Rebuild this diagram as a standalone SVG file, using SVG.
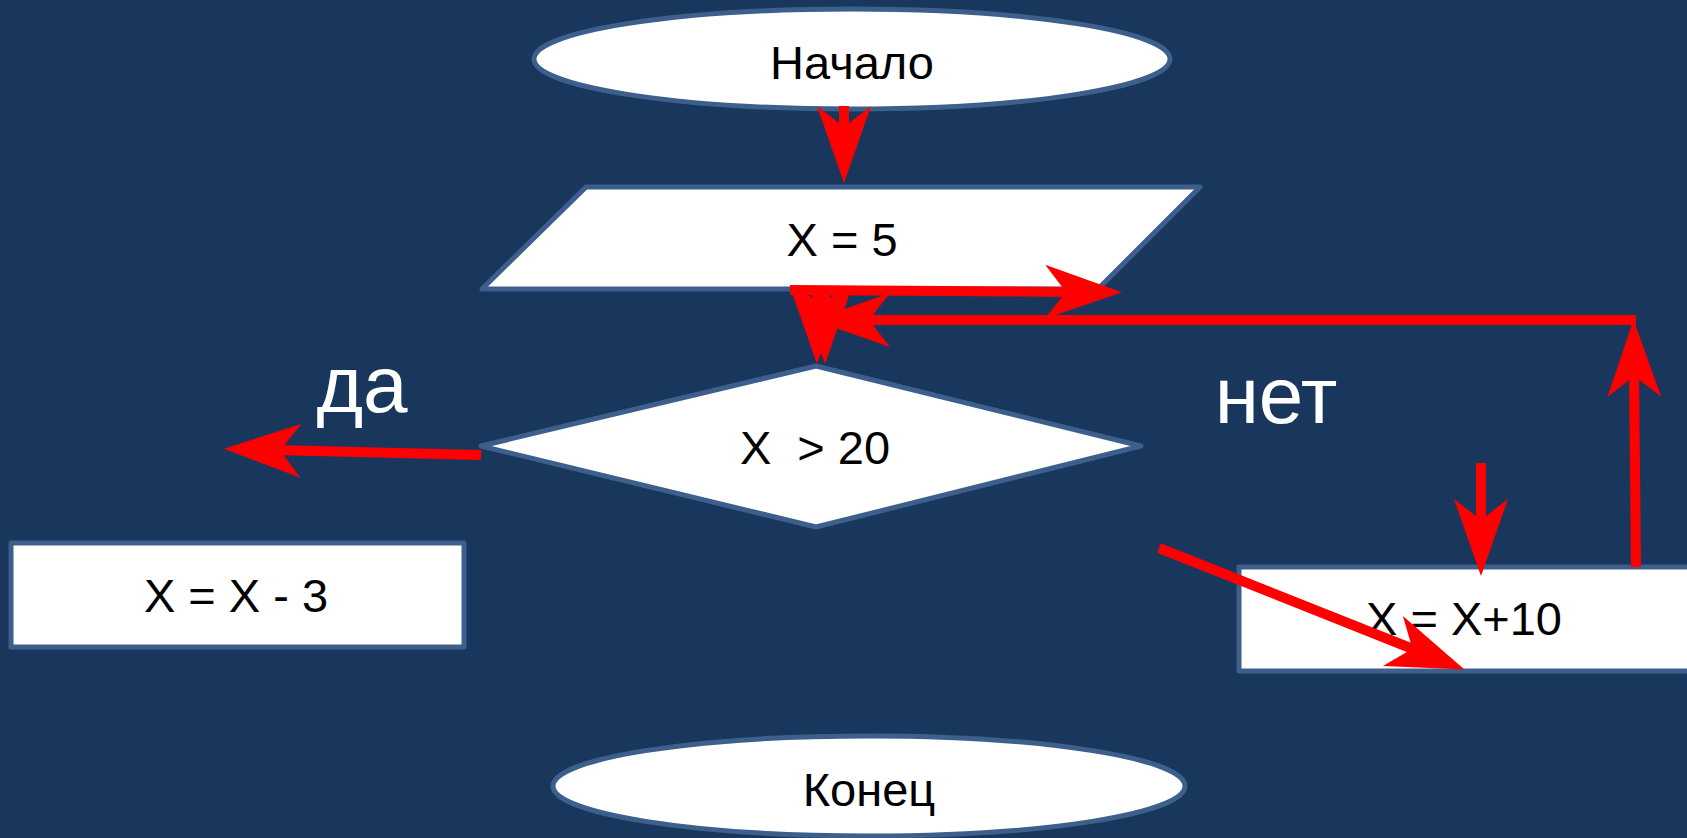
<svg xmlns="http://www.w3.org/2000/svg" width="1687" height="838" viewBox="0 0 1687 838">
<style>
.shape{fill:#ffffff;stroke:#3C5F8B;stroke-width:5;stroke-linejoin:round}
.t{font-family:"Liberation Sans",Arial,sans-serif;font-size:47px;fill:#000;text-anchor:middle;white-space:pre}
.lbl{font-family:"Liberation Sans",Arial,sans-serif;font-size:80px;fill:#fff;text-anchor:middle}
.c{stroke:#FF0000;stroke-width:10;fill:none;marker-end:url(#ah)}
</style>
<defs>
<marker id="ah" markerUnits="userSpaceOnUse" viewBox="-80 -30 82 60" markerWidth="82" markerHeight="60" refX="-50" refY="0" orient="auto" overflow="visible">
<path d="M0,0 L-77,-27 L-56,0 L-77,27 Z" fill="#FF0000"/>
</marker>
</defs>
<rect width="1687" height="838" fill="#19365D"/>
<g id="start">
<ellipse class="shape" cx="852" cy="59" rx="318" ry="50"/>
<text class="t" x="852" y="79">Начало</text>
</g>
<g id="input">
<polygon class="shape" points="586,187 1200,187 1098,289 482,289"/>
<text class="t" x="842" y="256">X = 5</text>
</g>
<g id="decision">
<polygon class="shape" points="816,366 1141,446 816,527 481,446"/>
<text class="t" x="815" y="464">X  &gt; 20</text>
</g>
<g id="minus">
<rect class="shape" x="11" y="543" width="453" height="104"/>
<text class="t" x="236" y="612">X = X - 3</text>
</g>
<g id="plus">
<rect class="shape" x="1239" y="567" width="460" height="104"/>
<text class="t" x="1464" y="635">X = X+10</text>
</g>
<g id="end">
<ellipse class="shape" cx="869" cy="786" rx="316" ry="50"/>
<text class="t" x="869" y="806">Конец</text>
</g>
<g id="labels">
<text class="lbl" x="362" y="412">да</text>
<text class="lbl" x="1276" y="423">нет</text>
</g>
<g id="connectors">
<line class="c" x1="844" y1="106" x2="844" y2="133"/>
<line class="c" x1="790" y1="290" x2="1072" y2="292"/>
<line class="c" x1="1636" y1="320" x2="863" y2="320"/>
<line class="c" x1="1636" y1="567" x2="1634" y2="370"/>
<line class="c" x1="817" y1="286" x2="817" y2="314"/>
<line class="c" x1="825" y1="286" x2="825" y2="314"/>
<line class="c" x1="481" y1="455" x2="274" y2="450"/>
<line class="c" x1="1159" y1="548" x2="1418" y2="651"/>
<line class="c" x1="1481" y1="463" x2="1481" y2="526"/>
</g>
</svg>
